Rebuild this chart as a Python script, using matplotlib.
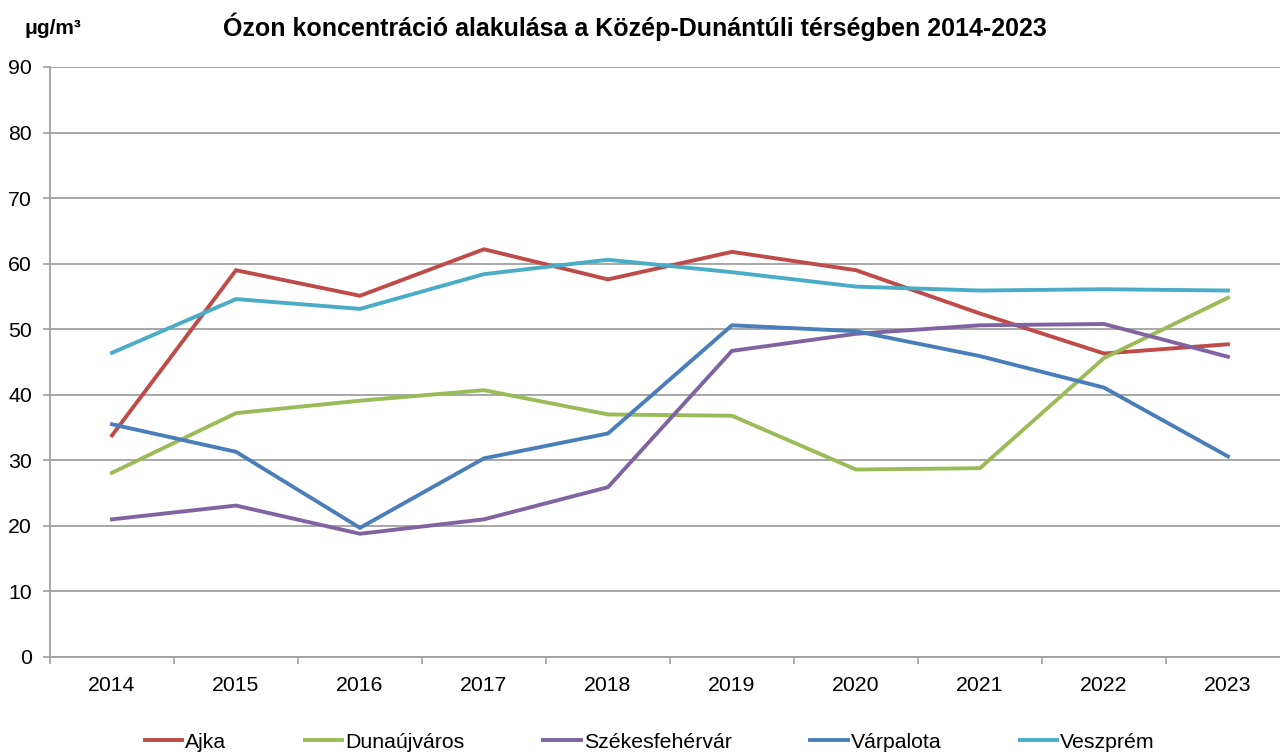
import matplotlib
matplotlib.use("Agg")
import matplotlib.pyplot as plt
from matplotlib.ticker import FixedLocator

plt.rcParams['font.family'] = ['Liberation Sans', 'DejaVu Sans']

years = ["2014", "2015", "2016", "2017", "2018", "2019", "2020", "2021", "2022", "2023"]
ajka = [33.8, 59.0, 55.1, 62.2, 57.6, 61.8, 59.0, 52.4, 46.3, 47.7]
dunaujvaros = [28.1, 37.2, 39.1, 40.7, 37.0, 36.8, 28.6, 28.8, 45.6, 54.8]
szekesfehervar = [21.0, 23.1, 18.8, 21.0, 25.9, 46.7, 49.3, 50.6, 50.8, 45.8]
varpalota = [35.5, 31.3, 19.7, 30.3, 34.1, 50.6, 49.7, 45.9, 41.1, 30.6]
veszprem = [46.4, 54.6, 53.1, 58.4, 60.6, 58.7, 56.5, 55.9, 56.1, 55.9]

series = [
    ("Ajka", ajka, "#BE4B48"),
    ("Dunaújváros", dunaujvaros, "#9BBB59"),
    ("Székesfehérvár", szekesfehervar, "#8064A2"),
    ("Várpalota", varpalota, "#4A7EBB"),
    ("Veszprém", veszprem, "#4BACC6"),
]

fig = plt.figure(figsize=(12.8, 7.56), dpi=100)
ax = fig.add_axes([50 / 1280, 1 - 657 / 756, 1 - 50 / 1280, (657 - 67) / 756])

x = list(range(len(years)))
for name, vals, col in series:
    ax.plot(x, vals, color=col, lw=2.8, label=name, solid_joinstyle="miter")

ax.set_ylim(0, 90)
ax.set_xlim(-0.5, 9.42)
ax.set_yticks(range(0, 91, 10))
ax.yaxis.grid(True, color="#A0A0A0", lw=1.3)
ax.set_axisbelow(True)

ax.set_xticks(x)
ax.set_xticklabels(years)
ax.xaxis.set_minor_locator(FixedLocator([i - 0.5 for i in range(11)]))
ax.tick_params(axis="x", which="major", length=0, pad=14, labelsize=15.3)
ax.tick_params(axis="x", which="minor", length=5, color="#A0A0A0", width=1.2)
ax.tick_params(axis="y", length=5, color="#A0A0A0", width=1.2, pad=8, labelsize=15.3)

for s in ["top", "right"]:
    ax.spines[s].set_visible(False)
for s in ["left", "bottom"]:
    ax.spines[s].set_color("#A0A0A0")
    ax.spines[s].set_linewidth(1.3)

fig.text(635, 756 - 27, "Ózon koncentráció alakulása a Közép-Dunántúli térségben 2014-2023",
         transform=None, ha="center", va="center", fontsize=18, fontweight="bold")
fig.text(25, 756 - 29, "μg/m³", transform=None, ha="left", va="center",
         fontsize=15, fontweight="bold")

fig.legend(loc="center", bbox_to_anchor=(650 / 1280, 1 - 742 / 756), ncol=5, frameon=False,
           fontsize=15.3, handlelength=1.75, handletextpad=0.15, columnspacing=3.7)

fig.savefig("out.png", dpi=100)
